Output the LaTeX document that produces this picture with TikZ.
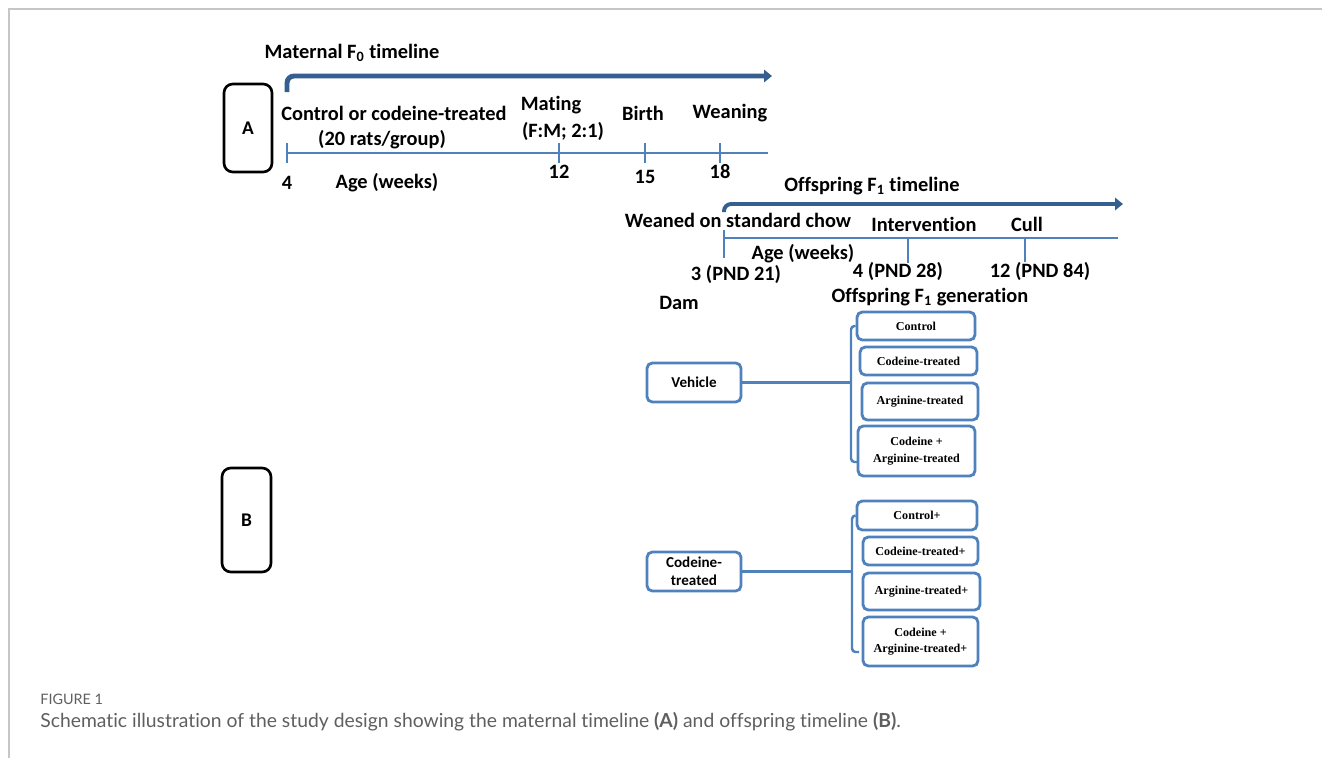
\documentclass[tikz,border=0pt]{standalone}
\usepackage{fontspec}
\setmainfont{Carlito}[Ligatures=NoCommon]
\newfontfamily\serifbox{Liberation Serif}
\newfontfamily\capfont{Lato}[Ligatures=NoCommon]
\usetikzlibrary{arrows.meta}
\definecolor{tlblue}{RGB}{79,129,189}
\definecolor{arrblue}{RGB}{54,95,145}
\definecolor{capgray}{RGB}{95,95,95}
\tikzset{
  lbl/.style={font=\fontsize{11.6}{13}\selectfont\bfseries, inner sep=0pt},
  tline/.style={tlblue, line width=1.2pt},
  bigarrow/.style={arrblue, line width=2.8pt, rounded corners=4pt, -{Triangle[length=4.5pt,width=7pt]}},
  letterbox/.style={draw, line width=1.5pt, rounded corners=5pt, inner sep=0pt, font=\fontsize{11}{12}\selectfont\bfseries},
  dambox/.style={draw=tlblue, line width=1.6pt, rounded corners=3pt, minimum width=1.88cm, minimum height=0.78cm, inner sep=0pt, align=center, font=\fontsize{8.6}{10}\selectfont\bfseries},
  grpbox/.style={draw=tlblue, line width=1.6pt, rounded corners=3pt, inner sep=0pt, align=center, font=\serifbox\fontsize{6.9}{9.5}\selectfont\bfseries},
  link/.style={tlblue, line width=1.4pt, rounded corners=2pt}
}
\begin{document}
\begin{tikzpicture}[x=0.02cm, y=-0.02cm]
	\useasboundingbox (0,0) rectangle (1322,758);
	\draw[gray!45, line width=0.6pt] (9,758) -- (9,9) -- (1322,9);
	% maternal timeline
	\node[letterbox, minimum width=0.96cm, minimum height=1.76cm] (boxA) at (248,128) {A};
	\node[lbl] (mattitle) at (352,53) {Maternal F\textsubscript{0} timeline};
	\coordinate (mstart) at (287,92);
	\coordinate (mend) at (772,76);
	\draw[bigarrow] (mstart) |- (mend);
	\coordinate (m0) at (287,153);
	\coordinate (m1) at (768,153);
	\draw[tline] (m0) -- (m1);
	\foreach \x/\n/\y in {287/4/183,559/12/172,645/15/177,720/18/172}{
		\draw[tline] (\x,143) -- (\x,163);
		\node[lbl] (age\n) at (\x,\y) {\n};
	}
	\node[lbl] (magelbl) at (387,183) {Age (weeks)};
	\node[lbl] (treat) at (394,113) {Control or codeine-treated};
	\node[lbl] (rats) at (382,140) {(20 rats/group)};
	\node[lbl] (mating) at (551,105) {Mating};
	\node[lbl] (fm) at (563,131) {(F:M; 2:1)};
	\node[lbl] (birth) at (643,113) {Birth};
	\node[lbl] (wean) at (730,113) {Weaning};
	% offspring timeline
	\node[lbl] (offtitle) at (872,186) {Offspring F\textsubscript{1} timeline};
	\coordinate (ostart) at (724,212);
	\coordinate (oend) at (1123,204);
	\draw[bigarrow, line width=2.2pt] (ostart) |- (oend);
	\coordinate (o0) at (724,238);
	\coordinate (o1) at (1118,238);
	\draw[tline] (o0) -- (o1);
	\draw[tline] (724,230) -- (724,258);
	\draw[tline] (908,238) -- (908,263);
	\draw[tline] (1025,238) -- (1025,262);
	\node[lbl] (weaned) at (738,220) {Weaned on standard chow};
	\node[lbl] (interv) at (924,224) {Intervention};
	\node[lbl] (cull) at (1027,224) {Cull};
	\node[lbl] (oagelbl) at (803,254) {Age (weeks)};
	\node[lbl] (pnd21) at (736,274) {3 (PND 21)};
	\node[lbl] (pnd28) at (898,271) {4 (PND 28)};
	\node[lbl] (pnd84) at (1040,271) {12 (PND 84)};
	\node[lbl] (gen) at (930,297) {Offspring F\textsubscript{1} generation};
	\node[lbl] (dam) at (679,303) {Dam};
	% groups
	\node[letterbox, minimum width=0.98cm, minimum height=2.08cm] (boxB) at (246.5,520) {B};
	\node[dambox] (veh) at (694,382.5) {Vehicle};
	\node[grpbox, minimum width=2.36cm, minimum height=0.56cm] (vc1) at (916,326) {Control};
	\node[grpbox, minimum width=2.34cm, minimum height=0.56cm] (vc2) at (918.5,361) {Codeine-treated};
	\node[grpbox, minimum width=2.32cm, minimum height=0.74cm] (vc3) at (920,401.5) {Arginine-treated};
	\node[grpbox, minimum width=2.34cm, minimum height=1.0cm] (vc4) at (916.5,451) {Codeine +\\Arginine-treated};
	\coordinate (vbr) at (851,382.5);
	\coordinate (vbot) at (858,462);
	\draw[link] (veh) -- (vbr);
	\draw[link] (vc1.west) -| (vbr) |- (vbot);
	\node[dambox] (cod) at (694,571.5) {Codeine-\\treated};
	\node[grpbox, minimum width=2.40cm, minimum height=0.58cm] (cc1) at (917,515.5) {Control+};
	\node[grpbox, minimum width=2.30cm, minimum height=0.56cm] (cc2) at (920.5,551) {Codeine-treated+};
	\node[grpbox, minimum width=2.34cm, minimum height=0.74cm] (cc3) at (921.5,591.5) {Arginine-treated+};
	\node[grpbox, minimum width=2.30cm, minimum height=0.98cm] (cc4) at (920.5,641.5) {Codeine +\\Arginine-treated+};
	\coordinate (cbr) at (852,571.5);
	\coordinate (cbot) at (859,652);
	\draw[link] (cod) -- (cbr);
	\draw[link] (cc1.west) -| (cbr) |- (cbot);
	% caption
	\node[anchor=west, inner sep=0pt, text=capgray, font=\capfont\fontsize{8.2}{9}\selectfont] (fig) at (40,699) {FIGURE 1};
	\node[anchor=west, inner sep=0pt, text=capgray, font=\capfont\fontsize{11}{12}\selectfont] (cap) at (40,722) {Schematic illustration of the study design showing the maternal timeline \textbf{(A)} and offspring timeline \textbf{(B)}.};
\end{tikzpicture}
\end{document}
